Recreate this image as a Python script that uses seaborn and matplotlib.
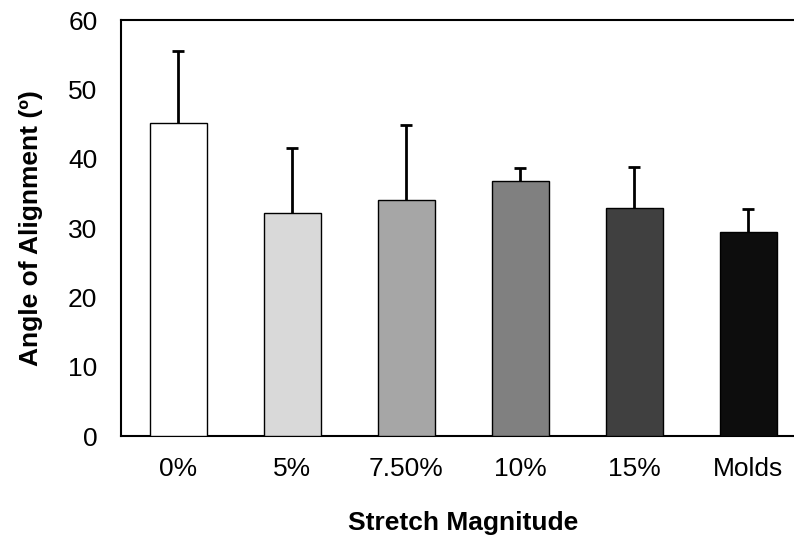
import matplotlib
matplotlib.use("Agg")
import matplotlib.pyplot as plt
import seaborn as sns
import pandas as pd
import numpy as np

# Alignment angle by stretch condition (mean and upper SD)
categories = ["0%", "5%", "7.50%", "10%", "15%", "Molds"]
means = [45.2, 32.2, 34.0, 36.8, 32.9, 29.4]
sd = [10.4, 9.3, 10.9, 1.8, 5.9, 3.3]
bar_colors = ["#FFFFFF", "#D9D9D9", "#A6A6A6", "#808080", "#404040", "#0D0D0D"]
y_ticks = [0, 10, 20, 30, 40, 50, 60]

sns.set_style("white")
plt.rcParams["font.family"] = ["Liberation Sans", "DejaVu Sans"]
plt.rcParams["text.color"] = "black"
plt.rcParams["axes.labelcolor"] = "black"

df = pd.DataFrame({"Stretch": categories, "Angle": means})

fig = plt.figure(figsize=(7.94, 5.35), dpi=100)
ax = fig.add_axes([121 / 794, 1 - 436 / 535, 684 / 794, 416 / 535])

sns.barplot(data=df, x="Stretch", y="Angle", hue="Stretch", palette=bar_colors,
            legend=False, width=0.5, edgecolor="black", linewidth=1.0,
            errorbar=None, ax=ax, zorder=3)

# upper-only error bars: stem from bar top plus a cap at mean + SD
pos = np.arange(len(categories))
tops = np.array(means) + np.array(sd)
ax.vlines(pos, means, tops, color="black", linewidth=2.0, zorder=4)
ax.plot(pos, tops, linestyle="none", marker="_", markersize=9,
        markeredgewidth=2.0, color="black", zorder=4)

ax.set_ylim(0, 60)
ax.set_xlim(-0.5, len(categories) - 0.5)
ax.set_yticks(y_ticks)
ax.set_yticklabels([str(t) for t in y_ticks], fontsize=19)

ax.set_xticks(pos)
ax.set_xticklabels(categories, fontsize=19)
ax.set_xticks(np.arange(-0.5, len(categories), 1.0), minor=True)
ax.tick_params(axis="x", which="major", length=0, pad=15)
ax.tick_params(axis="x", which="minor", length=6, width=1.5, direction="out", color="black")
ax.tick_params(axis="y", length=7, width=1.5, direction="out", color="black", pad=10)
ax.tick_params(colors="black", labelcolor="black")

for side in ["left", "bottom", "top"]:
    ax.spines[side].set_visible(True)
    ax.spines[side].set_color("black")
    ax.spines[side].set_linewidth(1.5)
ax.spines["right"].set_visible(False)

ax.set_xlabel("Stretch Magnitude", fontsize=19, fontweight="bold", labelpad=22)
ax.set_ylabel("Angle of Alignment (º)", fontsize=19, fontweight="bold", labelpad=18)

fig.savefig("out.png", dpi=100)
